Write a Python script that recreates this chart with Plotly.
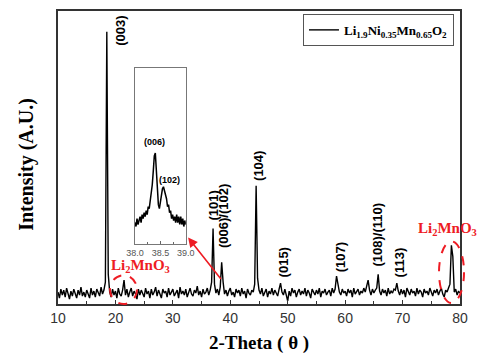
import plotly.graph_objects as go
import numpy as np

# XRD pattern, 2-theta from 10 to 80 deg in 0.25 deg steps
theta_start, theta_step = 10.0, 0.25
intensity = [
    12, 6, 15, 9, 14, 7, 16, 10, 5, 13, 8, 15, 11, 6, 14, 9, 17, 8, 12, 7,
    14, 10, 6, 16, 9, 13, 7, 15, 11, 8, 17, 10, 14, 22, 274, 30, 12, 7, 15, 9,
    13, 6, 16, 10, 8, 14, 24, 9, 15, 7, 12, 16, 8, 13, 10, 5, 15, 9, 14, 11,
    7, 16, 10, 13, 6, 15, 9, 12, 17, 8, 14, 10, 6, 15, 11, 13, 7, 16, 9, 12,
    15, 8, 11, 14, 6, 17, 10, 13, 9, 15, 7, 12, 16, 10, 8, 14, 11, 18, 9, 13,
    7, 15, 10, 12, 16, 9, 14, 22, 76, 20, 11, 15, 9, 17, 42, 22, 10, 14, 8, 13,
    16, 9, 12, 7, 15, 11, 14, 8, 16, 10, 13, 6, 15, 11, 9, 14, 12, 20, 119, 26,
    14, 10, 16, 8, 12, 15, 7, 13, 10, 16, 9, 14, 11, 8, 15, 21, 12, 9, 15, 10,
    3, 13, 8, 16, 11, 14, 7, 12, 15, 9, 13, 10, 16, 8, 14, 11, 6, 15, 12, 9,
    14, 10, 16, 7, 13, 11, 15, 9, 12, 14, 8, 16, 11, 15, 28, 18, 12, 9, 15, 11,
    13, 8, 15, 11, 14, 7, 16, 10, 12, 15, 9, 13, 11, 16, 12, 19, 24, 14, 9, 15,
    11, 14, 16, 30, 13, 9, 15, 11, 14, 8, 16, 10, 13, 11, 15, 14, 21, 13, 9, 15,
    10, 14, 7, 16, 12, 9, 15, 11, 13, 8, 16, 10, 14, 12, 7, 15, 11, 13, 9, 16,
    12, 8, 14, 11, 15, 9, 13, 16, 10, 7, 14, 12, 16, 20, 59, 48, 12, 15, 9, 13,
    11,
]
two_theta = theta_start + theta_step * np.arange(len(intensity))

# Inset: zoom on 38.0-39.0 deg, 0.02 deg steps
inset_start, inset_step = 38.0, 0.02
inset_intensity = [
    22, 18, 26, 20, 24, 28, 22, 30, 26, 32, 28, 34, 30, 38, 36, 44, 48, 60, 74, 89,
    92, 74, 52, 40, 36, 44, 52, 56, 58, 54, 48, 46, 38, 40, 32, 34, 26, 30, 24, 28,
    22, 30, 22, 28, 20, 28, 20, 26, 18, 24, 20,
]
inset_theta = inset_start + inset_step * np.arange(len(inset_intensity))

# Peak labels (Miller indices)
peak_labels = ["(003)", "(101)", "(006)/(102)", "(104)", "(015)", "(107)", "(108)/(110)", "(113)"]
label_x = [20.97, 37.15, 38.8, 45.0, 49.2, 59.1, 65.55, 69.4]
label_y = [275, 99, 89, 139, 42, 47, 70, 42]

inset_labels = ["(006)", "(102)"]
inset_label_x = [38.38, 38.68]
inset_label_y = [103, 65]

RED = "#ee1c24"

fig = go.Figure()
fig.add_trace(go.Scatter(
    x=two_theta, y=intensity, mode="lines",
    line=dict(color="black", width=1.4),
    name="<b>Li<sub>1.9</sub>Ni<sub>0.35</sub>Mn<sub>0.65</sub>O<sub>2</sub></b>",
))
fig.add_trace(go.Scatter(
    x=inset_theta, y=inset_intensity, mode="lines",
    line=dict(color="black", width=1.5),
    xaxis="x2", yaxis="y2", showlegend=False,
))

annotations = []
for txt, x, y in zip(peak_labels, label_x, label_y):
    annotations.append(dict(
        x=x, y=y, xref="x", yref="y", text="<b>" + txt + "</b>", showarrow=False,
        textangle=-90, font=dict(family="Liberation Sans", size=13, color="black"),
    ))
for txt, x, y in zip(inset_labels, inset_label_x, inset_label_y):
    annotations.append(dict(
        x=x, y=y, xref="x2", yref="y2", text="<b>" + txt + "</b>", showarrow=False,
        font=dict(family="Liberation Sans", size=9, color="black"),
    ))

red_font = dict(family="Liberation Serif", size=15, color=RED)
annotations += [
    dict(x=24.3, y=38, xref="x", yref="y", text="<b>Li<sub>2</sub>MnO<sub>3</sub></b>",
         showarrow=False, font=red_font),
    dict(x=0.970, y=0.2576, xref="paper", yref="paper", xanchor="center", yanchor="middle",
         text="<b>Li<sub>2</sub>MnO<sub>3</sub></b>", showarrow=False, font=red_font),
    # arrow from the (006)/(102) peak to the inset
    dict(x=32.65, y=67, xref="x", yref="y", ax=34, ay=43, text="", showarrow=True,
         arrowhead=2, arrowsize=1.2, arrowwidth=1.6, arrowcolor=RED),
    dict(x=-0.077, y=0.475, xref="paper", yref="paper", xanchor="center", yanchor="middle",
         text="<b>Intensity (A.U.)</b>", showarrow=False, textangle=-90,
         font=dict(family="Liberation Serif", size=20, color="black")),
    dict(x=0.5, y=-0.132, xref="paper", yref="paper", xanchor="center", yanchor="middle",
         text="<b>2-Theta ( θ )</b>", showarrow=False,
         font=dict(family="Liberation Serif", size=19, color="black")),
]

# dashed ellipses marking the Li2MnO3 reflections (paper coords so they are not clipped)
shapes = [
    dict(type="circle", xref="paper", yref="paper", x0=0.1294, x1=0.1965, y0=0.0, y1=0.0983,
         line=dict(color=RED, width=2, dash="dash")),
    dict(type="circle", xref="paper", yref="paper", x0=0.9478, x1=1.0100, y0=0.0034, y1=0.2136,
         line=dict(color=RED, width=2, dash="dash")),
]

fig.update_layout(
    width=480, height=356,
    margin=dict(l=58, r=20, t=9, b=52),
    plot_bgcolor="white", paper_bgcolor="white",
    annotations=annotations, shapes=shapes,
    legend=dict(
        x=0.985, y=0.99, xanchor="right", yanchor="top",
        bordercolor="#555", borderwidth=1, bgcolor="white",
        font=dict(family="Liberation Serif", size=13, color="black"),
        itemwidth=30, tracegroupgap=0,
    ),
    xaxis=dict(
        range=[10, 80], dtick=10, ticks="inside", ticklen=4, tickcolor="#333",
        minor=dict(dtick=5, ticks="inside", ticklen=3, tickcolor="#333"),
        showgrid=False, zeroline=False, showline=True, linecolor="#333", linewidth=1.5,
        mirror=True, tickfont=dict(family="Liberation Sans", size=14, color="#333"),
    ),
    yaxis=dict(
        range=[0, 295], showticklabels=False, ticks="", showgrid=False, zeroline=False,
        showline=True, linecolor="#333", linewidth=1.5, mirror=True,
    ),
    xaxis2=dict(
        domain=[0.1915, 0.318], anchor="y2", range=[38.0, 39.0], dtick=0.5,
        tickformat=".1f", ticks="inside", ticklen=3, tickcolor="#666",
        minor=dict(dtick=0.25, ticks="inside", ticklen=2, tickcolor="#666"),
        showgrid=False, zeroline=False, showline=True, linecolor="#777", linewidth=1,
        mirror=True, tickfont=dict(family="Liberation Sans", size=9, color="#555"),
    ),
    yaxis2=dict(
        domain=[0.2034, 0.807], anchor="x2", range=[0, 178], showticklabels=False,
        ticks="", showgrid=False, zeroline=False, showline=True, linecolor="#777",
        linewidth=1, mirror=True,
    ),
)

fig.write_html(
    "out.html",
    config={"displayModeBar": False},
    post_script="document.body.style.margin='0';",
)
